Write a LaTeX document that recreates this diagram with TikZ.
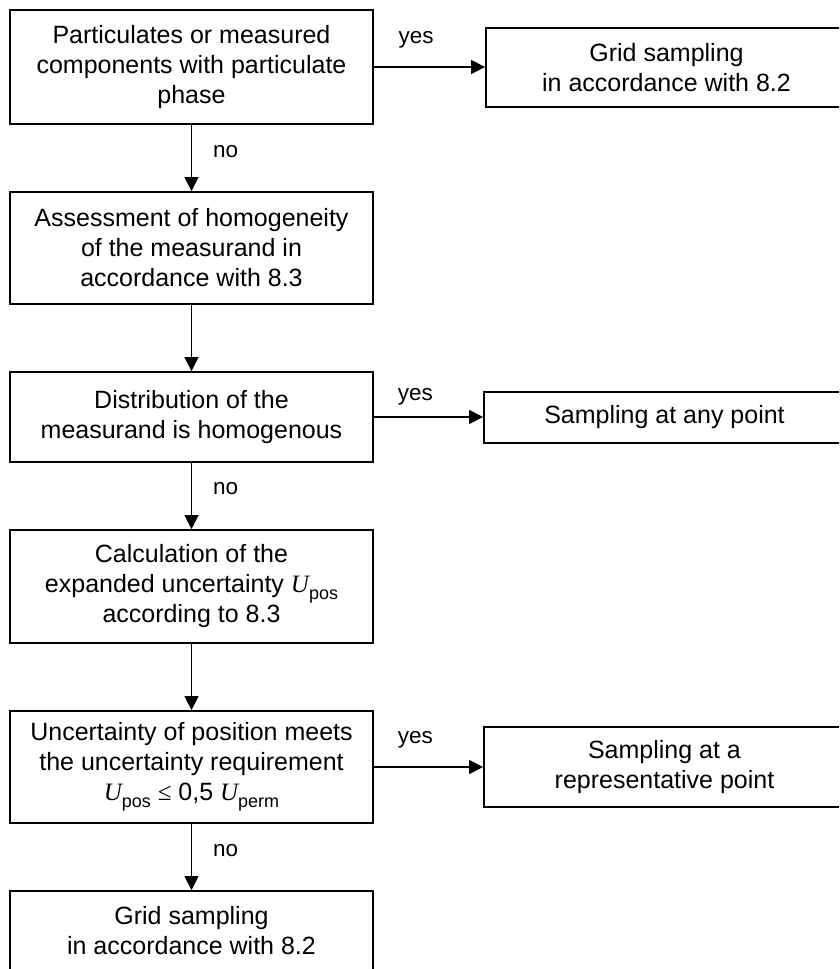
\documentclass[tikz,border=0pt]{standalone}
\usepackage{fontspec}
\setmainfont{Liberation Sans}
\newfontfamily\serifU{Liberation Serif}
\usetikzlibrary{arrows.meta}
\newcommand{\Uv}{{\serifU\itshape U}}
\newcommand{\subsc}[1]{\raisebox{-0.28em}{\fontsize{18}{18}\selectfont #1}}
\begin{document}
\begin{tikzpicture}[x=1pt,y=-1pt,
  box/.style={draw, line width=1.8pt, rectangle, align=center, inner sep=0pt,
              font=\fontsize{25}{30}\selectfont},
  lbox/.style={box, minimum width=363pt},
  rbox/.style={box, minimum width=361pt},
  arr/.style={-{Triangle[length=14pt,width=14pt]}, line width=1.3pt},
  lab/.style={font=\fontsize{22.5}{26}\selectfont, inner sep=0pt}]
\useasboundingbox (0,0) rectangle (839,969);
\clip (0,0) rectangle (839,969);
\fill[white] (0,0) rectangle (839,969);

\node[lbox, minimum height=114pt] (b1) at (191.5,67) {Particulates or measured\\components with particulate\\phase};
\node[lbox, minimum height=112pt] (b2) at (191.5,248) {Assessment of homogeneity\\of the measurand in\\accordance with 8.3};
\node[lbox, minimum height=90pt] (b3) at (191.5,417) {Distribution of the\\measurand is homogenous};
\node[lbox, minimum height=113pt] (b4) at (191.5,586.5) {Calculation of the\\expanded uncertainty \Uv\subsc{pos}\\according to 8.3};
\node[lbox, minimum height=112pt] (b5) at (191.5,767) {Uncertainty of position meets\\the uncertainty requirement\\\Uv\subsc{pos} {\serifU ≤} 0,5 \Uv\subsc{perm}};
\node[lbox, minimum height=80pt] (b6) at (191.5,931) {Grid sampling\\in accordance with 8.2};

\node[rbox, minimum height=79pt] (r1) at (666.5,67.5) {Grid sampling\\in accordance with 8.2};
\node[rbox, minimum height=51pt] (r2) at (664.5,417.5) {Sampling at any point};
\node[rbox, minimum height=80pt] (r3) at (664.5,767) {Sampling at a\\representative point};

\draw[arr] (b1) -- (b2) node[lab, pos=0.4, right=21pt] {no};
\draw[arr] (b2) -- (b3);
\draw[arr] (b3) -- (b4) node[lab, pos=0.38, right=21pt] {no};
\draw[arr] (b4) -- (b5);
\draw[arr] (b5) -- (b6) node[lab, pos=0.4, right=21pt] {no};

\draw[arr] (b1.east) -- (b1.east -| r1.west) node[lab, pos=0.38, above=18pt] {yes};
\draw[arr] (b3.east) -- (b3.east -| r2.west) node[lab, pos=0.38, above=11pt] {yes};
\draw[arr] (b5.east) -- (b5.east -| r3.west) node[lab, pos=0.38, above=18pt] {yes};
\end{tikzpicture}
\end{document}
